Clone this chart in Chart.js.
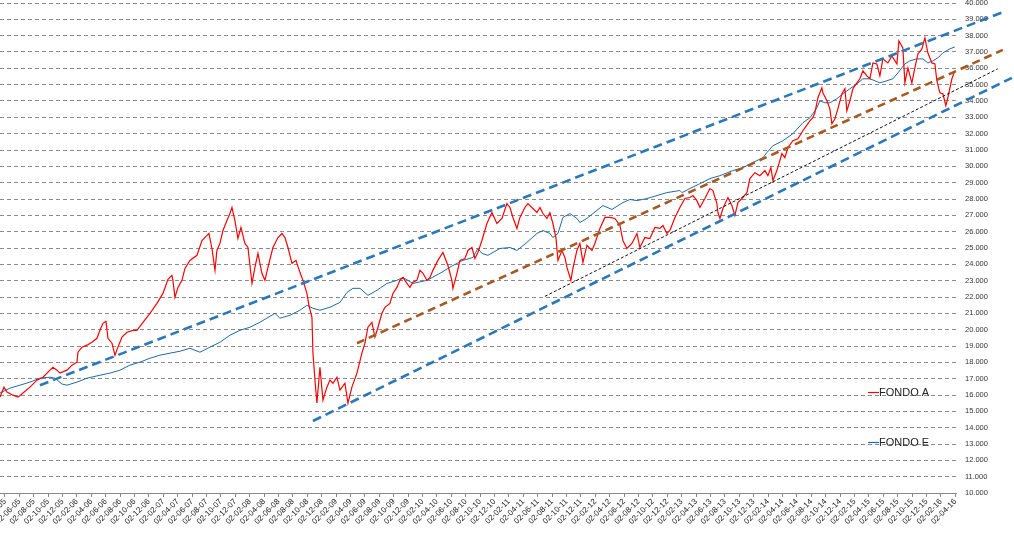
<!DOCTYPE html>
<html>
<head>
<meta charset="utf-8">
<script src="https://cdn.jsdelivr.net/npm/chart.js@4.4.1/dist/chart.umd.min.js"></script>
<style>
  html, body { margin: 0; padding: 0; background: #fff; }
  #wrap { width: 1014px; height: 539px; }
</style>
</head>
<body>
<div id="wrap"><canvas id="fondos" width="1014" height="539"></canvas></div>
<script>
// x = months counted from 02-04-05, y = valor cuota in thousands

const tickLabels = [
    '02-04-05', '02-06-05', '02-08-05', '02-10-05', '02-12-05',
    '02-02-06', '02-04-06', '02-06-06', '02-08-06', '02-10-06', '02-12-06',
    '02-02-07', '02-04-07', '02-06-07', '02-08-07', '02-10-07', '02-12-07',
    '02-02-08', '02-04-08', '02-06-08', '02-08-08', '02-10-08', '02-12-08',
    '02-02-09', '02-04-09', '02-06-09', '02-08-09', '02-10-09', '02-12-09',
    '02-02-10', '02-04-10', '02-06-10', '02-08-10', '02-10-10', '02-12-10',
    '02-02-11', '02-04-11', '02-06-11', '02-08-11', '02-10-11', '02-12-11',
    '02-02-12', '02-04-12', '02-06-12', '02-08-12', '02-10-12', '02-12-12',
    '02-02-13', '02-04-13', '02-06-13', '02-08-13', '02-10-13', '02-12-13',
    '02-02-14', '02-04-14', '02-06-14', '02-08-14', '02-10-14', '02-12-14',
    '02-02-15', '02-04-15', '02-06-15', '02-08-15', '02-10-15', '02-12-15',
    '02-02-16', '02-04-16'
];

const fondoA = [
    [-0.69, 15.87], [-0.14, 16.48], [0.28, 16.18], [1.11, 15.99], [1.81, 15.87], [2.5, 16.12],
    [3.47, 16.48], [4.44, 16.91], [5.28, 17.09], [6.25, 17.52], [6.67, 17.70], [7.22, 17.52],
    [7.64, 17.34], [8.61, 17.52], [9.31, 17.83], [10.0, 18.01], [10.14, 18.62], [10.69, 18.93],
    [11.39, 19.05], [12.08, 19.23], [12.78, 19.47], [13.19, 19.96], [13.61, 20.39], [14.03, 20.51],
    [14.31, 19.47], [14.86, 19.17], [15.28, 18.44], [15.69, 18.93], [16.25, 19.54], [16.94, 19.84],
    [17.78, 19.96], [18.33, 19.96], [19.17, 20.45], [20.14, 21.00], [21.11, 21.61], [21.94, 22.22],
    [22.64, 23.08], [23.19, 23.32], [23.33, 23.02], [23.61, 21.98], [24.03, 22.59], [24.58, 23.02],
    [25.0, 23.75], [25.69, 24.24], [26.67, 24.55], [27.36, 25.46], [28.06, 25.77], [28.33, 25.89],
    [28.75, 24.97], [29.17, 23.63], [29.44, 24.85], [29.86, 25.28], [30.28, 26.07], [30.83, 26.68],
    [31.25, 27.11], [31.53, 27.48], [31.94, 26.68], [32.36, 25.58], [32.78, 26.26], [33.33, 25.28],
    [33.75, 25.03], [34.31, 22.83], [34.72, 23.81], [35.14, 24.67], [35.69, 23.45], [36.11, 23.02],
    [36.53, 23.81], [37.22, 25.03], [37.92, 25.64], [38.47, 25.89], [38.89, 25.64], [39.31, 25.03],
    [39.86, 24.06], [40.42, 24.24], [40.97, 23.51], [41.39, 23.02], [41.94, 22.22], [42.22, 21.49],
    [42.64, 20.76], [42.78, 18.56], [43.06, 16.91], [43.33, 15.51], [43.75, 17.70], [44.17, 15.69],
    [44.72, 16.48], [45.14, 16.91], [45.56, 16.72], [46.11, 17.09], [46.53, 16.30], [47.22, 16.72],
    [47.64, 15.50], [48.19, 16.48], [48.89, 17.34], [49.58, 18.56], [50.0, 19.17], [50.42, 20.15],
    [50.97, 20.45], [51.39, 19.54], [51.81, 20.15], [52.36, 21.00], [52.78, 21.37], [53.47, 21.61],
    [53.89, 22.22], [54.44, 22.59], [54.86, 23.02], [55.28, 23.20], [55.83, 22.83], [56.25, 22.59],
    [56.67, 22.90], [57.22, 23.02], [57.64, 23.63], [58.06, 23.45], [58.61, 23.02], [59.03, 23.20],
    [59.44, 23.63], [60.14, 24.24], [60.83, 24.73], [61.53, 23.93], [62.08, 23.02], [62.22, 22.53],
    [62.78, 23.45], [63.19, 24.24], [63.89, 24.36], [64.31, 24.85], [64.86, 25.03], [65.28, 24.36],
    [65.69, 24.73], [66.25, 25.46], [66.94, 26.50], [67.64, 27.17], [68.33, 26.50], [69.03, 26.81],
    [69.72, 27.72], [70.14, 27.48], [70.56, 26.87], [71.11, 26.20], [71.53, 26.87], [72.22, 27.48],
    [72.64, 27.72], [73.33, 27.42], [73.89, 27.17], [74.31, 27.48], [74.72, 27.11], [75.28, 26.81],
    [75.69, 27.17], [76.11, 26.50], [76.53, 25.64], [76.81, 24.24], [77.36, 24.85], [77.78, 24.42],
    [78.06, 23.81], [78.61, 23.02], [78.89, 23.75], [79.44, 24.85], [79.86, 25.28], [80.28, 24.12],
    [80.83, 25.16], [81.53, 24.85], [81.94, 25.28], [82.64, 26.20], [83.33, 26.87], [84.03, 26.87],
    [84.72, 26.81], [85.42, 26.38], [85.83, 25.46], [86.39, 24.97], [87.08, 25.28], [87.78, 25.89],
    [88.19, 25.03], [88.89, 25.64], [89.58, 25.58], [90.28, 26.26], [90.97, 26.20], [91.39, 26.38],
    [91.94, 25.89], [92.36, 26.07], [93.06, 26.87], [93.75, 27.48], [94.44, 28.03], [95.14, 28.09],
    [95.56, 28.21], [96.11, 27.90], [96.53, 27.48], [97.22, 28.03], [97.92, 28.64], [98.33, 28.52],
    [98.89, 27.72], [99.03, 27.17], [99.31, 26.81], [99.72, 27.42], [100.42, 28.09], [100.97, 27.60],
    [101.39, 26.99], [101.81, 27.78], [102.36, 28.03], [103.06, 28.39], [103.47, 29.25], [104.17, 29.61],
    [104.86, 29.43], [105.56, 29.74], [105.97, 29.43], [106.39, 29.92], [106.67, 29.13], [107.22, 29.74],
    [107.92, 30.78], [108.33, 30.53], [108.75, 31.14], [109.44, 31.57], [110.14, 31.69], [110.83, 32.18],
    [111.53, 32.61], [111.81, 32.79], [112.22, 32.98], [112.5, 33.28], [112.92, 34.20], [113.47, 34.81],
    [113.61, 34.50], [114.17, 34.01], [114.58, 33.52], [114.86, 32.61], [115.28, 32.91], [115.69, 33.52],
    [116.25, 34.44], [116.67, 34.75], [116.94, 33.40], [117.36, 34.01], [117.78, 34.75], [118.33, 35.11],
    [118.75, 35.36], [119.17, 35.85], [119.72, 35.54], [120.14, 35.36], [120.56, 36.33], [121.11, 36.27],
    [121.53, 35.54], [121.94, 36.58], [122.64, 36.33], [123.19, 36.76], [123.89, 36.27], [124.17, 37.68],
    [124.72, 37.25], [125.0, 35.11], [125.42, 36.03], [125.97, 35.11], [126.39, 36.03], [126.81, 36.88],
    [127.36, 37.19], [127.78, 37.86], [128.19, 36.95], [128.75, 36.33], [129.17, 36.27], [129.44, 35.24],
    [129.86, 34.50], [130.28, 34.44], [130.69, 33.71], [130.97, 34.20], [131.53, 35.36], [131.94, 35.85]
];

const fondoE = [
    [-0.69, 16.12], [0.69, 16.42], [2.08, 16.60], [3.47, 16.79], [4.86, 17.03], [6.25, 17.09],
    [6.94, 17.03], [7.92, 16.67], [8.61, 16.60], [10.0, 16.79], [11.39, 17.03], [13.19, 17.21],
    [14.58, 17.34], [15.97, 17.52], [17.36, 17.83], [18.75, 18.01], [20.14, 18.25], [21.53, 18.44],
    [22.92, 18.56], [24.31, 18.68], [25.69, 18.86], [27.08, 18.62], [28.47, 18.93], [29.86, 19.23],
    [31.25, 19.66], [32.64, 19.96], [34.03, 20.15], [35.42, 20.45], [36.81, 20.82], [37.5, 21.00],
    [38.19, 20.70], [39.58, 20.88], [40.97, 21.19], [41.94, 21.49], [42.78, 21.31], [43.75, 21.19],
    [45.14, 21.37], [46.53, 21.67], [47.5, 22.28], [48.33, 22.53], [49.31, 22.53], [50.42, 22.10],
    [51.67, 22.41], [53.06, 22.83], [54.44, 23.02], [55.28, 23.20], [56.67, 22.83], [58.61, 23.02],
    [60.42, 23.45], [62.22, 23.93], [63.61, 24.24], [65.0, 24.42], [65.69, 24.97], [66.25, 24.67],
    [67.08, 24.55], [68.75, 24.97], [70.14, 25.03], [71.11, 24.85], [72.5, 25.34], [73.89, 25.89],
    [74.72, 26.07], [75.69, 25.89], [76.11, 25.64], [76.81, 25.89], [77.5, 26.87], [78.47, 27.11],
    [79.44, 26.81], [79.86, 26.56], [80.83, 26.81], [81.67, 27.11], [83.06, 27.60], [84.31, 27.36],
    [85.83, 27.78], [86.81, 27.97], [87.78, 27.90], [89.17, 28.03], [90.56, 28.21], [91.94, 28.39],
    [93.75, 28.52], [94.03, 28.39], [95.14, 28.64], [96.53, 28.94], [97.92, 29.25], [99.31, 29.43],
    [101.11, 29.74], [102.5, 29.92], [103.89, 30.23], [105.28, 30.53], [105.83, 30.84], [106.67, 31.26],
    [108.06, 31.57], [109.44, 32.00], [110.83, 32.67], [111.81, 32.97], [112.78, 33.59], [113.19, 34.01],
    [113.89, 33.89], [114.58, 33.89], [115.56, 34.14], [116.39, 34.44], [117.36, 34.75], [118.33, 35.05],
    [119.17, 35.36], [120.14, 35.36], [120.83, 35.24], [121.53, 35.11], [122.5, 35.24], [123.33, 35.36],
    [124.03, 35.72], [125.0, 36.27], [125.69, 36.46], [126.67, 36.58], [127.5, 36.58], [128.19, 36.33],
    [128.89, 36.46], [129.58, 36.64], [130.28, 36.95], [131.25, 37.19], [131.94, 37.31]
];

// hand-drawn trend lines (start / end)
const channelUpper = [[4.86, 16.60], [138.9, 39.49]];
const channelLower = [[42.78, 14.41], [139.86, 35.42]];
const trendBrown = [[48.89, 19.17], [138.6, 37.13]];
const trendBlack = [[75.0, 22.04], [137.9, 35.97]];

const toXY = pts => pts.map(p => ({ x: p[0], y: p[1] }));

const floatingLegend = {
    id: 'floatingLegend',
    afterDraw(chart) {
        const ctx = chart.ctx;
        const rows = [{ ds: 4, y: 392 }, { ds: 5, y: 442 }];
        ctx.save();
        ctx.setLineDash([]);
        ctx.font = '11px "Liberation Sans", Arial, sans-serif';
        ctx.textBaseline = 'middle';
        rows.forEach(r => {
            const ds = chart.data.datasets[r.ds];
            ctx.strokeStyle = ds.borderColor;
            ctx.lineWidth = 1.2;
            ctx.beginPath();
            ctx.moveTo(868, r.y + 0.5);
            ctx.lineTo(879, r.y + 0.5);
            ctx.stroke();
            ctx.fillStyle = '#222';
            ctx.fillText(ds.label, 879, r.y + 1);
        });
        ctx.restore();
    }
};

const trendStyle = (data, color, width, dash) => ({
    data: toXY(data),
    borderColor: color,
    borderWidth: width,
    borderDash: dash,
    pointRadius: 0,
    fill: false,
    clip: false,
    order: 0
});

new Chart(document.getElementById('fondos'), {
    type: 'line',
    data: {
        datasets: [
            trendStyle(channelUpper, '#2a78ba', 2.6, [9, 5]),
            trendStyle(channelLower, '#2a78ba', 2.6, [9, 5]),
            trendStyle(trendBrown, '#a65a22', 2.6, [8, 5]),
            trendStyle(trendBlack, '#111111', 1, [3, 2]),
            {
                label: 'FONDO A',
                data: toXY(fondoA),
                borderColor: '#ff0000',
                borderWidth: 1.2,
                pointRadius: 0,
                tension: 0,
                order: 1
            },
            {
                label: 'FONDO E',
                data: toXY(fondoE),
                borderColor: '#1f6aa8',
                borderWidth: 1,
                pointRadius: 0,
                tension: 0,
                order: 2
            }
        ]
    },
    options: {
        responsive: false,
        animation: false,
        events: [],
        layout: { padding: 0 },
        plugins: {
            legend: { display: false },
            tooltip: { enabled: false }
        },
        scales: {
            x: {
                type: 'linear',
                min: -0.69,
                max: 132.1,
                afterBuildTicks: scale => {
                    scale.ticks = tickLabels.map((_, i) => ({ value: i * 2 }));
                },
                afterFit: scale => {
                    scale.height = 46;
                    scale.paddingLeft = 0;
                    scale.paddingRight = 0;
                },
                grid: {
                    drawOnChartArea: false,
                    drawTicks: true,
                    tickLength: 4,
                    color: '#8a8a8a'
                },
                border: { display: true, color: '#8a8a8a' },
                ticks: {
                    autoSkip: false,
                    minRotation: 45,
                    maxRotation: 45,
                    padding: 0,
                    color: '#222',
                    font: { family: '"Liberation Sans", Arial, sans-serif', size: 8 },
                    callback: v => tickLabels[Math.round(v / 2)]
                }
            },
            y: {
                position: 'right',
                min: 10,
                max: 40,
                afterFit: scale => {
                    scale.width = 58;
                    scale.paddingTop = 3;
                    scale.paddingBottom = 0;
                },
                grid: {
                    color: '#8a8a8a',
                    drawTicks: false
                },
                border: { display: false, dash: [4, 3] },
                ticks: {
                    stepSize: 1,
                    padding: 9,
                    color: '#333',
                    font: { family: '"Liberation Sans", Arial, sans-serif', size: 7.5 },
                    callback: v => v.toFixed(3)
                }
            }
        }
    },
    plugins: [floatingLegend]
});
</script>
</body>
</html>
